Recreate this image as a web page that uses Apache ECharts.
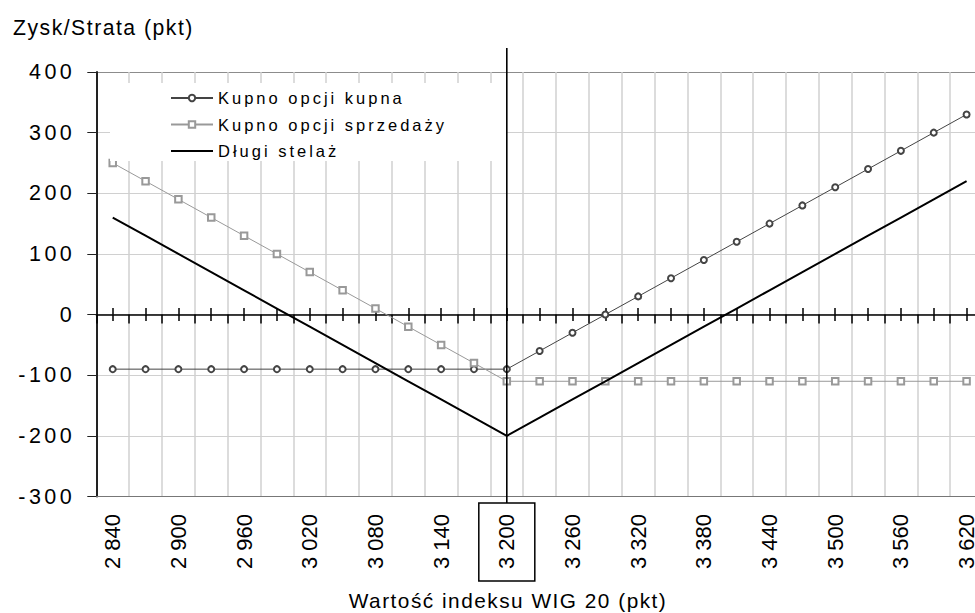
<!DOCTYPE html>
<html>
<head>
<meta charset="utf-8">
<script src="https://cdn.jsdelivr.net/npm/echarts@6/dist/echarts.min.js"></script>
<style>
html, body { margin: 0; padding: 0; background: #fff; }
#chart { width: 975px; height: 613px; }
#chart text[style*="16.5px"] { letter-spacing: 3px; }
#chart text[style*="21.5px"] { letter-spacing: 3.5px; }
#chart text[style*="21.2px"] { letter-spacing: 1.5px; }
#chart text[style*="20.8px"] { letter-spacing: 1.5px; }
</style>
</head>
<body>
<div id="chart"></div>
<script>
// Index values (x categories)
const categories = [2840, 2870, 2900, 2930, 2960, 2990, 3020, 3050, 3080, 3110, 3140, 3170, 3200,
  3230, 3260, 3290, 3320, 3350, 3380, 3410, 3440, 3470, 3500, 3530, 3560, 3590, 3620];
// Y tick labels
const yTicks = [-300, -200, -100, 0, 100, 200, 300, 400];
// Series names
const seriesNames = ['Kupno opcji kupna', 'Kupno opcji sprzedaży', 'Długi stelaż'];
// Series values
const callValues = [-90, -90, -90, -90, -90, -90, -90, -90, -90, -90, -90, -90, -90,
  -60, -30, 0, 30, 60, 90, 120, 150, 180, 210, 240, 270, 300, 330];
const putValues = [250, 220, 190, 160, 130, 100, 70, 40, 10, -20, -50, -80, -110,
  -110, -110, -110, -110, -110, -110, -110, -110, -110, -110, -110, -110, -110, -110];
const straddleValues = [160, 130, 100, 70, 40, 10, -20, -50, -80, -110, -140, -170, -200,
  -170, -140, -110, -80, -50, -20, 10, 40, 70, 100, 130, 160, 190, 220];
const markedCategory = '3200';

const FONT = 'Liberation Sans, Arial, sans-serif';
const catData = categories.map(String);

function fmtThousands(v) {
  const s = String(v);
  return s.length > 3 ? s.slice(0, s.length - 3) + ' ' + s.slice(-3) : s;
}

const tokenBase = {
  fontSize: 22, fontFamily: FONT, color: '#000', lineHeight: 24,
  padding: [17, 11, 17, 12]
};

const baseCat = { type: 'category', data: catData, boundaryGap: true };

const option = {
  animation: false,
  backgroundColor: '#fff',
  title: [
    { text: 'Zysk/Strata (pkt)', left: 8, top: 12,
      textStyle: { fontSize: 21.2, fontWeight: 'normal', fontFamily: FONT, color: '#000' } },
    { text: 'Wartość indeksu WIG 20 (pkt)', left: 503, textAlign: 'center', top: 585,
      textStyle: { fontSize: 20.8, fontWeight: 'normal', fontFamily: FONT, color: '#000' } }
  ],
  legend: {
    orient: 'vertical', left: 110, top: 83,
    padding: [6.5, 122, 1.5, 60],
    backgroundColor: '#fff',
    itemWidth: 42, itemHeight: 8, itemGap: 9.5,
    selectedMode: false,
    textStyle: { fontSize: 16.5, fontFamily: FONT, color: '#000', lineHeight: 17 },
    data: [
      { name: seriesNames[0] },
      { name: seriesNames[1] },
      { name: seriesNames[2], itemStyle: { opacity: 0 } }
    ]
  },
  grid: { left: 96.3, right: -8, top: 72, bottom: 116.5, containLabel: false, outerBoundsMode: 'none' },
  xAxis: [
    Object.assign({}, baseCat, {
      position: 'bottom',
      axisLine: { show: true, onZero: false, lineStyle: { color: '#777', width: 1 } },
      axisTick: { show: false },
      axisLabel: {
        interval: 1, rotate: 90, margin: 6.5,
        formatter: function (v) {
          return (v === markedCategory ? '{b|' : '{a|') + fmtThousands(v) + '}';
        },
        rich: {
          a: Object.assign({}, tokenBase),
          b: Object.assign({}, tokenBase, { borderColor: '#000', borderWidth: 1.5 })
        }
      },
      splitLine: { show: true, interval: 0, lineStyle: { color: '#d0d0d0', width: 1.5 } }
    }),
    Object.assign({}, baseCat, {
      position: 'bottom',
      axisLine: { show: true, onZero: true, onZeroAxisIndex: 0, lineStyle: { color: '#000', width: 1.5 } },
      axisTick: { show: true, interval: 0, length: 9, lineStyle: { color: '#000', width: 1.5 } },
      axisLabel: { show: false },
      splitLine: { show: false }
    }),
    Object.assign({}, baseCat, {
      position: 'bottom',
      axisLine: { show: false, onZero: true, onZeroAxisIndex: 0 },
      axisTick: { show: true, interval: 0, alignWithLabel: true, length: 6.5, lineStyle: { color: '#000', width: 1.5 } },
      axisLabel: { show: false, interval: 0 },
      splitLine: { show: false }
    }),
    Object.assign({}, baseCat, {
      position: 'bottom',
      axisLine: { show: false, onZero: true, onZeroAxisIndex: 0 },
      axisTick: { show: true, inside: true, interval: 0, alignWithLabel: true, length: 6.5, lineStyle: { color: '#000', width: 1.5 } },
      axisLabel: { show: false, interval: 0 },
      splitLine: { show: false }
    })
  ],
  yAxis: {
    type: 'value',
    min: yTicks[0], max: yTicks[yTicks.length - 1], interval: yTicks[1] - yTicks[0],
    axisLine: { show: true, onZero: false, lineStyle: { color: '#222', width: 2 } },
    axisTick: { show: true, length: 9, lineStyle: { color: '#222', width: 1 } },
    axisLabel: { fontSize: 21.5, fontFamily: FONT, color: '#000', margin: 21 },
    splitLine: { show: true, lineStyle: { width: 1,
      color: ['#777', '#d0d0d0', '#d0d0d0', '#d0d0d0', '#d0d0d0', '#d0d0d0', '#d0d0d0', '#8c8c8c'] } }
  },
  series: [
    { name: seriesNames[0], type: 'line', data: callValues, xAxisIndex: 0,
      symbol: 'emptyCircle', symbolSize: 6, showAllSymbol: true,
      lineStyle: { color: '#444', width: 1 }, itemStyle: { color: '#444', borderWidth: 1 }, z: 3 },
    { name: seriesNames[1], type: 'line', data: putValues, xAxisIndex: 0,
      symbol: 'emptyRect', symbolSize: 6.5, showAllSymbol: true,
      lineStyle: { color: '#999', width: 1 }, itemStyle: { color: '#999', borderWidth: 1 }, z: 3 },
    { name: seriesNames[2], type: 'line', data: straddleValues, xAxisIndex: 0,
      symbol: 'none',
      lineStyle: { color: '#000', width: 2 }, itemStyle: { color: '#000' }, z: 4 }
  ]
};

const chart = echarts.init(document.getElementById('chart'), null, { renderer: 'svg', width: 975, height: 613 });
chart.setOption(option);
const px = chart.convertToPixel({ xAxisIndex: 0 }, markedCategory);
const yTop = chart.convertToPixel({ yAxisIndex: 0 }, yTicks[yTicks.length - 1]) - 24;
const yBot = chart.convertToPixel({ yAxisIndex: 0 }, yTicks[0]) + 6.5;
chart.setOption({
  graphic: [{ type: 'line', shape: { x1: px, y1: yTop, x2: px, y2: yBot },
    style: { stroke: '#000', lineWidth: 1.6 }, z: 10 }]
});
</script>
</body>
</html>
